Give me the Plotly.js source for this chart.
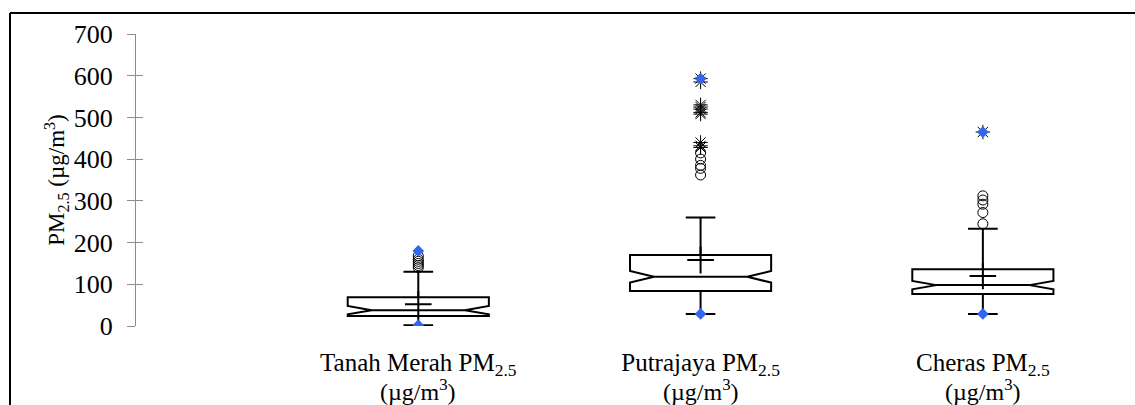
<!DOCTYPE html>
<html>
<head>
<meta charset="utf-8">
<script src="https://cdn.plot.ly/plotly-3.0.1.min.js"></script>
<style>html,body{margin:0;padding:0;background:#fff;}#chart{width:1135px;height:405px;}</style>
</head>
<body>
<div id="chart"></div>
<script>
// ---- data ----
var sites = ["Tanah Merah", "Putrajaya", "Cheras"];
var tickLabels = ["Tanah Merah PM<sub>2.5</sub>",
                  "Putrajaya PM<sub>2.5</sub>",
                  "Cheras PM<sub>2.5</sub>"];
var unitLabel = "(µg/m<sup>3</sup>)";
var q1Vals = [24, 84, 77];
var medianVals = [38, 118, 98];
var q3Vals = [69, 170, 136];
var lowerWhisker = [2, 29, 29];
var upperWhisker = [130, 260, 233];
var notchSpans = [10, 14, 10];
var meanVals = [52, 158, 120];
var minVals = [2, 29, 29];
var maxVals = [180, 593, 465];
// mild outliers (open circles)
var circleSite = ["Tanah Merah","Tanah Merah","Tanah Merah","Tanah Merah","Tanah Merah","Tanah Merah",
                  "Putrajaya","Putrajaya","Putrajaya","Putrajaya","Putrajaya",
                  "Cheras","Cheras","Cheras","Cheras","Cheras"];
var circleVals = [168, 160, 155, 150, 145, 140,
                  415, 400, 385, 378, 362,
                  312, 302, 292, 272, 245];
// extreme outliers (asterisks)
var starSite = ["Putrajaya","Putrajaya","Putrajaya","Putrajaya","Putrajaya","Putrajaya","Putrajaya","Putrajaya","Putrajaya","Putrajaya",
                "Cheras"];
var starVals = [593, 585, 530, 525, 520, 512, 508, 440, 432, 428,
                465];
var yTicks = [0, 100, 200, 300, 400, 500, 600, 700];

// ---- layout geometry ----
var W = 1135, H = 405;
var mL = 136, mR = 11, mT = 34, mB = 79;
var pw = W - mL - mR, ph = H - mT - mB;
function px2x(px){ return (px - mL) / pw; }
function py2y(py){ return (H - mB - py) / ph; }

var FONT = "'Liberation Serif', 'Times New Roman', 'DejaVu Serif', serif";
var blue = "#3366ee";

var traces = [
  {
    type: "box",
    x: sites,
    q1: q1Vals, median: medianVals, q3: q3Vals,
    lowerfence: lowerWhisker, upperfence: upperWhisker,
    notchspan: notchSpans,
    notched: true, notchwidth: 0.17,
    whiskerwidth: 0.21,
    boxpoints: false,
    fillcolor: "rgba(255,255,255,1)",
    line: {color: "#000", width: 2},
    hoverinfo: "skip",
    showlegend: false
  },
  {
    type: "scatter", mode: "markers",
    x: sites, y: meanVals,
    marker: {symbol: "cross-thin-open", size: 19, color: "#000", line: {color: "#000", width: 2}},
    showlegend: false, hoverinfo: "skip"
  },
  {
    type: "scatter", mode: "markers",
    x: circleSite, y: circleVals,
    marker: {symbol: "circle-open", size: 10, color: "#000", line: {color: "#000", width: 1}},
    showlegend: false, hoverinfo: "skip"
  },
  {
    type: "scatter", mode: "markers",
    x: starSite, y: starVals,
    marker: {symbol: "asterisk-open", size: 12, color: "#000", line: {color: "#000", width: 1}},
    showlegend: false, hoverinfo: "skip"
  },
  {
    type: "scatter", mode: "markers",
    x: sites.concat(sites), y: minVals.concat(maxVals),
    marker: {symbol: "diamond", size: 9, color: blue, line: {width: 0}},
    showlegend: false, hoverinfo: "skip"
  }
];

var annotations = sites.map(function(s){
  return {xref: "x", yref: "paper", x: s, y: py2y(390), yanchor: "middle", xanchor: "center",
          text: unitLabel, showarrow: false, font: {family: FONT, size: 24, color: "#000"}};
});

var layout = {
  width: W, height: H,
  margin: {l: mL, r: mR, t: mT, b: mB, pad: 0},
  paper_bgcolor: "#fff", plot_bgcolor: "#fff",
  font: {family: FONT, size: 24, color: "#000"},
  showlegend: false,
  boxgap: 0.5, boxgroupgap: 0,
  xaxis: {
    type: "category",
    range: [-1, 2.5],
    tickvals: sites, ticktext: tickLabels,
    showgrid: false, zeroline: false, showline: false,
    ticks: "", ticklabelstandoff: 19,
    tickfont: {family: FONT, size: 25, color: "#000"}
  },
  yaxis: {
    range: [0, 700],
    tickvals: yTicks,
    showgrid: false, zeroline: false,
    showline: true, linecolor: "#8c8c8c", linewidth: 1,
    ticks: "outside", ticklen: 8, tickcolor: "#8c8c8c", tickwidth: 1,
    ticklabelstandoff: 9,
    tickfont: {family: FONT, size: 26, color: "#000"},
    title: {text: "PM<sub>2.5</sub> (µg/m<sup>3</sup>)", font: {family: FONT, size: 23, color: "#000"}, standoff: 2}
  },
  yaxis2: {
    overlaying: "y", range: [0, 700], tickvals: yTicks,
    showgrid: false, zeroline: false, showline: false,
    ticks: "inside", ticklen: 7, tickcolor: "#8c8c8c", tickwidth: 1,
    showticklabels: false, side: "left"
  },
  annotations: annotations,
  shapes: [
    {type: "line", xref: "paper", yref: "paper", x0: px2x(10), x1: px2x(W + 5), y0: py2y(13), y1: py2y(13), line: {color: "#000", width: 2}},
    {type: "line", xref: "paper", yref: "paper", x0: px2x(10), x1: px2x(10), y0: py2y(13), y1: py2y(H + 5), line: {color: "#000", width: 2}}
  ]
};

// dummy trace to activate yaxis2 ticks
traces.push({type: "scatter", x: [sites[0]], y: [null], yaxis: "y2", showlegend: false, hoverinfo: "skip"});

Plotly.newPlot("chart", traces, layout, {staticPlot: true, displayModeBar: false});
</script>
</body>
</html>
